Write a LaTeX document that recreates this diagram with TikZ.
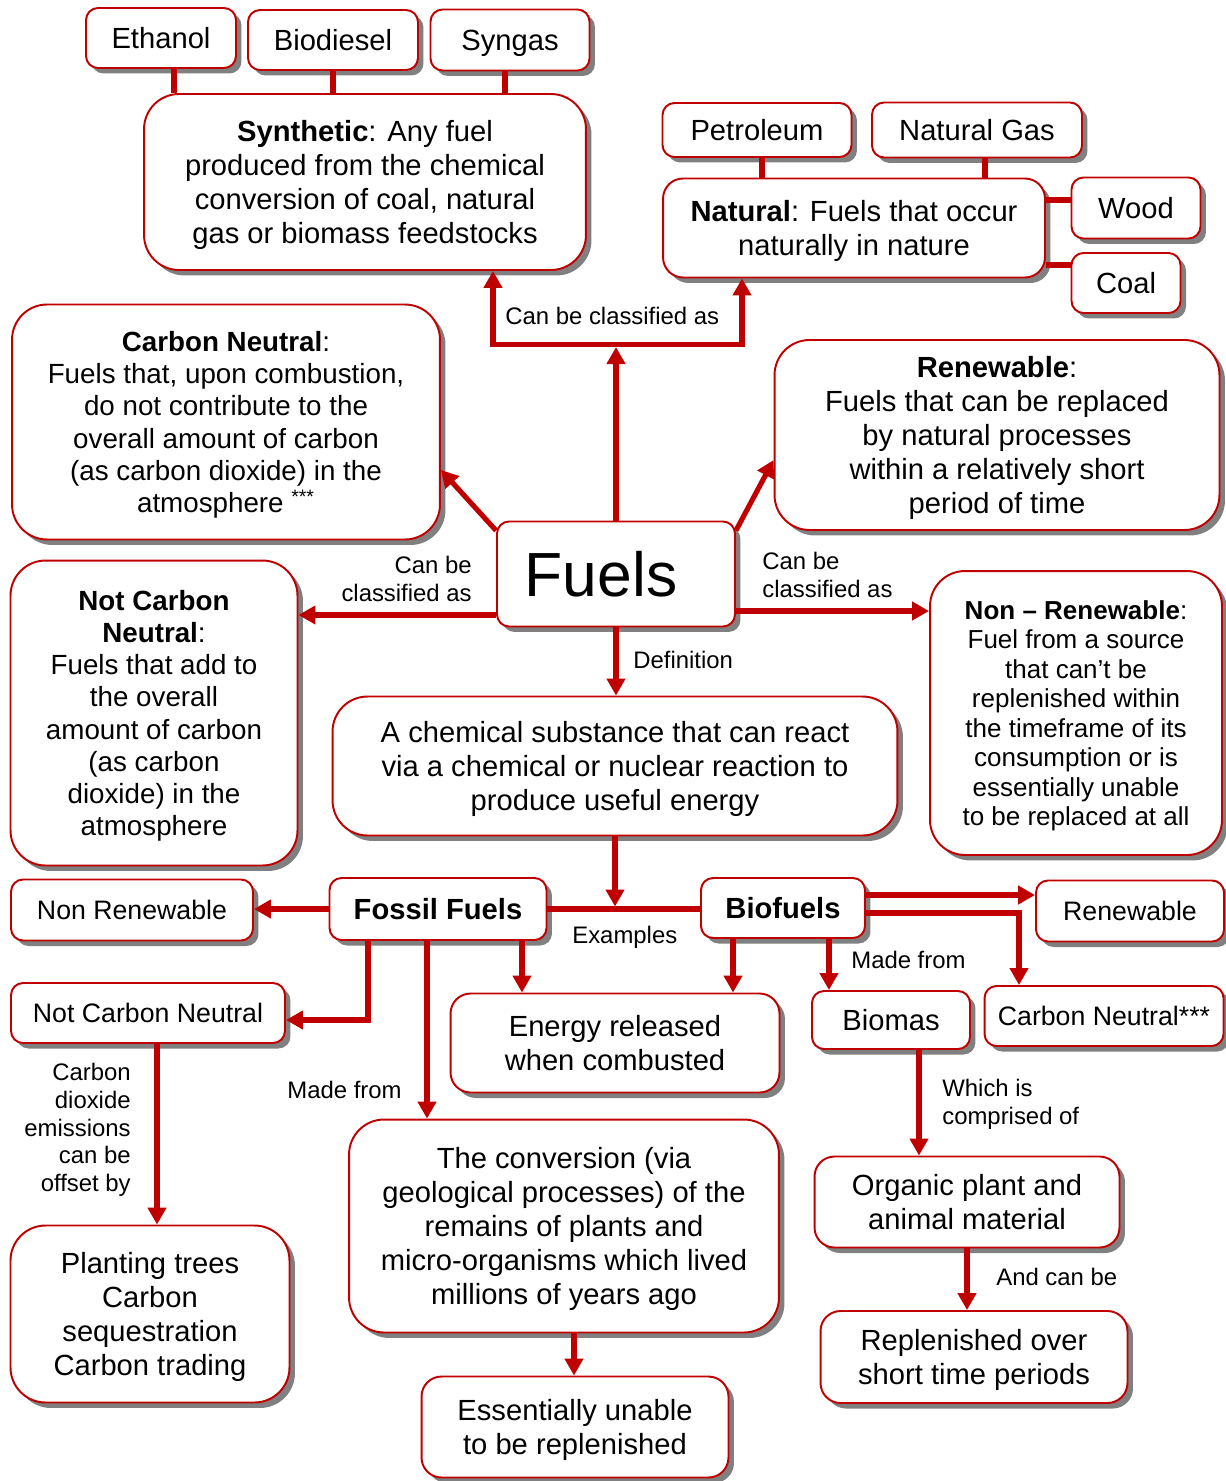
\documentclass[tikz,border=0pt]{standalone}
\usepackage{fontspec}
\setmainfont{Liberation Sans}
\usetikzlibrary{arrows.meta,positioning,calc,shadows}
\definecolor{fuelRed}{RGB}{192,0,0}
\definecolor{shadowGray}{RGB}{128,128,128}
\newcommand{\boxfont}{\fontsize{16.6}{19.3}\selectfont}
\newcommand{\tagfont}{\fontsize{15.2}{18}\selectfont}
\newcommand{\midfont}{\fontsize{15.8}{18.3}\selectfont}
\newcommand{\smallfont}{\fontsize{14.8}{16.8}\selectfont}
\newcommand{\lblfont}{\fontsize{13.6}{15.8}\selectfont}
\newcommand{\titlefont}{\fontsize{35.5}{40}\selectfont}
\tikzset{
  box/.style={draw=fuelRed, line width=1.1pt, fill=white, rounded corners=0.24cm,
    align=center, inner sep=0pt, text depth=0pt, font=\boxfont,
    drop shadow={shadow xshift=0.11cm, shadow yshift=-0.11cm, fill=shadowGray, opacity=1}},
  bigbox/.style={box, rounded corners=0.7cm},
  tagbox/.style={box, font=\tagfont},
  link/.style={draw=fuelRed, line width=2.9pt},
  arr/.style={link, -{Triangle[length=0.34cm,width=0.36cm]}},
  lbl/.style={font=\lblfont, inner sep=0pt},
}

\begin{document}
\begin{tikzpicture}[x=0.02cm, y=-0.02cm]
    \useasboundingbox (0,0) rectangle (1226,1481);
    % Synthetic and its examples
    \node[box, minimum width=3.0cm, minimum height=1.2cm] (ethanol) at (161,38) {Ethanol};
    \node[box, minimum width=3.4cm, minimum height=1.2cm] (biodiesel) at (333,40) {Biodiesel};
    \node[box, minimum width=3.18cm, minimum height=1.22cm] (syngas) at (510,40) {Syngas};
    \node[bigbox, minimum width=8.84cm, minimum height=3.52cm] (synth) at (365,182)
      {\textbf{Synthetic}: Any fuel\\produced from the chemical\\conversion of coal, natural\\gas or biomass feedstocks};
    % Natural and its examples
    \node[box, minimum width=3.78cm, minimum height=1.08cm] (petroleum) at (757,130) {Petroleum};
    \node[box, minimum width=4.2cm, minimum height=1.1cm] (natgas) at (977,130) {Natural Gas};
    \node[box, rounded corners=0.4cm, minimum width=7.64cm, minimum height=1.98cm] (natural) at (854,228)
      {\textbf{Natural}: Fuels that occur\\naturally in nature};
    \node[box, minimum width=2.58cm, minimum height=1.22cm] (wood) at (1136,208) {Wood};
    \node[box, minimum width=2.18cm, minimum height=1.2cm] (coal) at (1126,283) {Coal};
    % Classes round Fuels
    \node[bigbox, font=\midfont, minimum width=8.56cm, minimum height=4.7cm] (cneutral) at (226,422)
      {\textbf{Carbon Neutral}:\\Fuels that, upon combustion,\\do not contribute to the\\overall amount of carbon\\(as carbon dioxide) in the\\atmosphere \textsuperscript{***}};
    \node[bigbox, minimum width=8.9cm, minimum height=3.8cm] (renewable) at (997,435)
      {\textbf{Renewable}:\\Fuels that can be replaced\\by natural processes\\within a relatively short\\period of time};
    \node[box, font=\titlefont, minimum width=4.76cm, minimum height=2.1cm] (fuels) at (616,574) {Fuels\hspace*{0.6cm}};
    \node[bigbox, font=\midfont, minimum width=5.74cm, minimum height=6.1cm] (notcn) at (154,713)
      {\textbf{Not Carbon}\\\textbf{Neutral}:\\Fuels that add to\\the overall\\amount of carbon\\(as carbon\\dioxide) in the\\atmosphere};
    \node[bigbox, font=\smallfont, minimum width=5.84cm, minimum height=5.68cm] (nonren) at (1076,713)
      {\textbf{Non – Renewable}:\\Fuel from a source\\that can’t be\\replenished within\\the timeframe of its\\consumption or is\\essentially unable\\to be replaced at all};
    \node[bigbox, minimum width=11.3cm, minimum height=2.78cm] (defn) at (615,766)
      {A chemical substance that can react\\via a chemical or nuclear reaction to\\produce useful energy};
    % Examples
    \node[box, minimum width=4.34cm, minimum height=1.24cm] (fossil) at (438,909) {\textbf{Fossil Fuels}};
    \node[box, minimum width=3.28cm, minimum height=1.2cm] (biofuels) at (783,908) {\textbf{Biofuels}};
    \node[tagbox, minimum width=4.84cm, minimum height=1.22cm] (nonrensm) at (132,910) {Non Renewable};
    \node[tagbox, minimum width=5.48cm, minimum height=1.2cm] (notcnsm) at (148,1013) {Not Carbon Neutral};
    \node[box, rounded corners=0.4cm, minimum width=6.58cm, minimum height=1.98cm] (energy) at (615,1043)
      {Energy released\\when combusted};
    \node[tagbox, minimum width=3.76cm, minimum height=1.22cm] (renewsm) at (1130,911) {Renewable};
    \node[tagbox, minimum width=4.78cm, minimum height=1.2cm] (cnstar) at (1104,1016) {Carbon Neutral***};
    \node[box, minimum width=3.16cm, minimum height=1.16cm] (biomas) at (891,1020) {Biomas};
    \node[box, rounded corners=0.4cm, minimum width=6.1cm, minimum height=1.82cm] (organic) at (967,1202)
      {Organic plant and\\animal material};
    \node[box, rounded corners=0.4cm, minimum width=6.14cm, minimum height=1.84cm] (replen) at (974,1357)
      {Replenished over\\short time periods};
    \node[bigbox, minimum width=5.58cm, minimum height=3.54cm] (planting) at (150,1314)
      {Planting trees\\Carbon\\sequestration\\Carbon trading};
    \node[bigbox, minimum width=8.6cm, minimum height=4.26cm] (conversion) at (564,1226)
      {The conversion (via\\geological processes) of the\\remains of plants and\\micro-organisms which lived\\millions of years ago};
    \node[box, rounded corners=0.4cm, minimum width=6.14cm, minimum height=2.02cm] (essential) at (575,1427)
      {Essentially unable\\to be replenished};

    % Links to the examples
    \coordinate (ethB) at ([xshift=0.26cm]ethanol.south);
    \coordinate (synB) at ([xshift=-0.1cm]syngas.south);
    \draw[link] (ethB) -- (ethB |- synth.north);
    \draw[link] (biodiesel.south) -- (biodiesel.south |- synth.north);
    \draw[link] (synB) -- (synB |- synth.north);
    \coordinate (petB) at ([xshift=0.1cm]petroleum.south);
    \coordinate (ngB) at ([xshift=0.16cm]natgas.south);
    \coordinate (woodW) at ([yshift=0.16cm]wood.west);
    \coordinate (coalW) at ([yshift=0.36cm]coal.west);
    \draw[link] (petB) -- (petB |- natural.north);
    \draw[link] (ngB) -- (ngB |- natural.north);
    \draw[link] (woodW) -- (woodW -| natural.east);
    \draw[link] (coalW) -- (coalW -| natural.east);

    % Fuels classified upwards
    \path (fuels.north) ++(0,-176) coordinate (split);
    \coordinate (synA) at ([xshift=2.56cm]synth.south);
    \coordinate (natA) at ([xshift=-2.24cm]natural.south);
    \draw[arr] (split) -| (synA);
    \draw[arr] (split) -| (natA);
    \draw[arr] (fuels.north) -- ([yshift=-0.05cm]split);
    \node[lbl, anchor=west] (clsTop) at (505,316) {Can be classified as};

    % Fuels classified sideways
    \draw[arr] ([yshift=-0.2cm]fuels.north west) -- ([yshift=-0.96cm]cneutral.east);
    \draw[arr] ([yshift=-0.2cm]fuels.north east) -- ([yshift=-0.5cm]renewable.west);
    \coordinate (fL) at ([yshift=-0.82cm]fuels.west);
    \coordinate (fR) at ([yshift=-0.74cm]fuels.east);
    \draw[arr] (fL) -- (fL -| notcn.east);
    \draw[arr] (fR) -- (fR -| nonren.west);
    \node[lbl, anchor=east, align=right] (clsLeft) at (472,579) {Can be\\classified as};
    \node[lbl, anchor=west, align=left] (clsRight) at (762,575) {Can be\\classified as};

    % Definition and examples
    \draw[arr] (fuels.south) -- (fuels.south |- defn.north);
    \node[lbl, anchor=west] (defLbl) at (633,660) {Definition};
    \coordinate (exBar) at (fossil.east -| defn.south);
    \draw[link] (fossil.east) -- (fossil.east -| biofuels.west);
    \draw[arr] (defn.south) -- ([yshift=0.05cm]exBar);
    \node[lbl, anchor=west] (exLbl) at (572,937) {Examples};

    % Fossil fuels
    \draw[arr] (fossil.west) -- (fossil.west -| nonrensm.east);
    \coordinate (fosA) at ([xshift=-1.4cm]fossil.south);
    \coordinate (ncE) at ([yshift=-0.14cm]notcnsm.east);
    \draw[arr] (fosA) |- (ncE);
    \coordinate (fosB) at ([xshift=1.68cm]fossil.south);
    \draw[arr] (fosB) -- (fosB |- energy.north);
    \coordinate (fosC) at ([xshift=-0.22cm]fossil.south);
    \draw[arr] (fosC) -- (fosC |- conversion.north);
    \node[lbl, anchor=east] (fosMade) at (402,1090) {Made from};
    \coordinate (cvB) at ([xshift=0.2cm]conversion.south);
    \draw[arr] (cvB) -- (cvB |- essential.north);
    \coordinate (ncB) at ([xshift=0.18cm]notcnsm.south);
    \draw[arr] (ncB) -- (ncB |- planting.north);
    \node[lbl, anchor=east, align=right] (offLbl) at (131,1130)
      {Carbon\\dioxide\\emissions\\can be\\offset by};

    % Biofuels
    \coordinate (bioA) at ([xshift=-1.0cm]biofuels.south);
    \draw[arr] (bioA) -- (bioA |- energy.north);
    \coordinate (bioB) at ([xshift=0.92cm]biofuels.south);
    \draw[arr] (bioB) -- (bioB |- biomas.north);
    \node[lbl, anchor=west] (bioMade) at (851,960) {Made from};
    \coordinate (bioR) at ([yshift=0.26cm]biofuels.east);
    \draw[arr] (bioR) -- (bioR -| renewsm.west);
    \coordinate (bioC) at ([yshift=-0.1cm]biofuels.east);
    \coordinate (cnN) at ([xshift=-1.7cm]cnstar.north);
    \draw[arr] (bioC) -| (cnN);
    \coordinate (bmB) at ([xshift=0.56cm]biomas.south);
    \draw[arr] (bmB) -- (bmB |- organic.north);
    \node[lbl, anchor=west, align=left] (compLbl) at (942,1104) {Which is\\comprised of};
    \draw[arr] (organic.south) -- (organic.south |- replen.north);
    \node[lbl, anchor=west] (andLbl) at (996,1277) {And can be};
\end{tikzpicture}
\end{document}
